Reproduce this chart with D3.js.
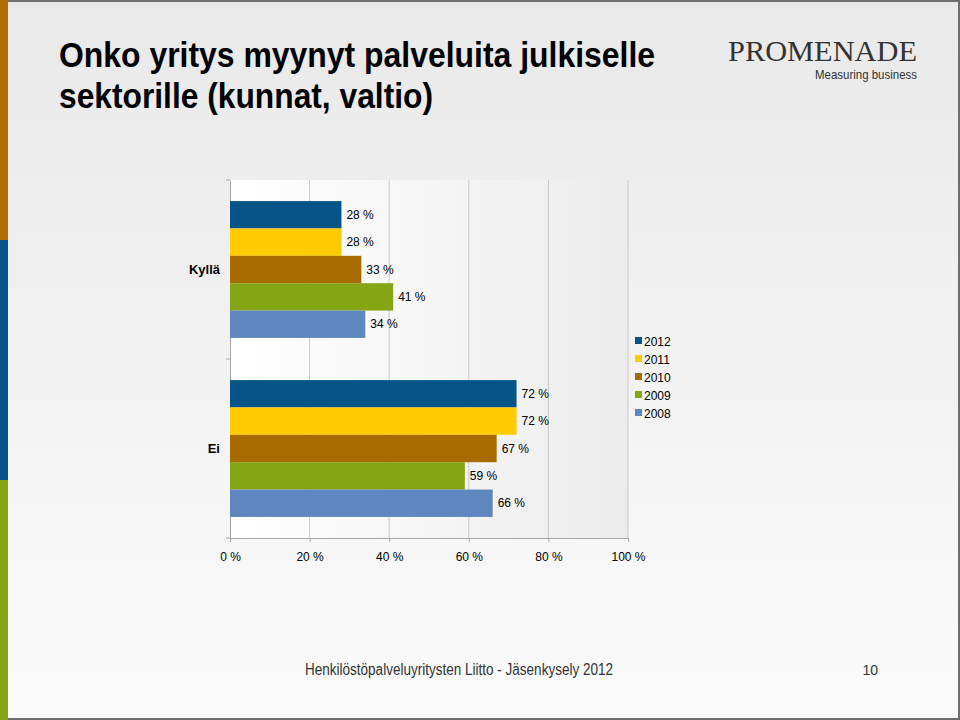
<!DOCTYPE html>
<html><head><meta charset="utf-8">
<script src="https://cdn.jsdelivr.net/npm/d3@7"></script>
<style>body{margin:0}svg{display:block}</style>
</head><body><svg id="viz"></svg>
<script>
(function () {
    const categories = ['Kyllä', 'Ei']
    const years = ['2012', '2011', '2010', '2009', '2008']
    const colors = ['#045487', '#ffcc00', '#a86b00', '#86a514', '#5f87bf']
    const values = {
        '2012': [28, 72],
        '2011': [28, 72],
        '2010': [33, 67],
        '2009': [41, 59],
        '2008': [34, 66]
    }
    const xTicks = [0, 20, 40, 60, 80, 100]

    const W = 960, H = 720
    const svg = d3.select('#viz').attr('width', W).attr('height', H)
    const defs = svg.append('defs')
    let bg = defs.append('linearGradient').attr('id', 'bg').attr('x1', 0).attr('y1', 0).attr('x2', 0).attr('y2', 1)
    bg.append('stop').attr('offset', 0).attr('stop-color', '#e9e9e9')
    bg.append('stop').attr('offset', 1).attr('stop-color', '#fbfbfb')
    let pg = defs.append('linearGradient').attr('id', 'pg').attr('x1', 0).attr('y1', 0).attr('x2', 1).attr('y2', 0)
    pg.append('stop').attr('offset', 0).attr('stop-color', '#ffffff')
    pg.append('stop').attr('offset', 1).attr('stop-color', '#ececec')

    svg.append('rect').attr('width', W).attr('height', H).attr('fill', 'url(#bg)')
    svg.append('rect').attr('x', 1).attr('y', 1).attr('width', W - 2).attr('height', H - 2)
        .attr('fill', 'none').attr('stroke', '#6e6e6e').attr('stroke-width', 2)
    // side stripe
    ;[['#b07000', 0], ['#045487', 240], ['#86a514', 480]].forEach(s => {
        svg.append('rect').attr('x', 0).attr('y', s[1]).attr('width', 8).attr('height', 240).attr('fill', s[0])
    })

    // title (condensed look via textLength)
    const title = svg.append('text').attr('font-family', '"Liberation Sans", Arial, sans-serif')
        .attr('font-weight', 'bold').attr('font-size', 35).attr('fill', '#000')
    title.append('tspan').attr('x', 59).attr('y', 67).attr('textLength', 596).attr('lengthAdjust', 'spacingAndGlyphs')
        .text('Onko yritys myynyt palveluita julkiselle')
    title.append('tspan').attr('x', 59).attr('y', 108).attr('textLength', 374).attr('lengthAdjust', 'spacingAndGlyphs')
        .text('sektorille (kunnat, valtio)')

    // logo
    svg.append('text').attr('x', 917).attr('y', 61).attr('text-anchor', 'end')
        .attr('font-family', '"Liberation Serif", serif').attr('font-size', 29).attr('fill', '#333')
        .attr('textLength', 189).attr('lengthAdjust', 'spacingAndGlyphs').text('PROMENADE')
    svg.append('text').attr('x', 917).attr('y', 79).attr('text-anchor', 'end')
        .attr('font-family', '"Liberation Sans", sans-serif').attr('font-size', 13).attr('fill', '#333')
        .attr('textLength', 102).attr('lengthAdjust', 'spacingAndGlyphs').text('Measuring business')

    // chart
    const x = d3.scaleLinear().domain([0, 100]).range([230, 628])
    const y0 = d3.scaleBand().domain(categories).range([180, 538]).padding(0)
    const y1 = d3.scaleBand().domain(years).range([0, y0.bandwidth()]).paddingInner(0).paddingOuter(0.77)

    svg.append('rect').attr('x', 230).attr('y', 180).attr('width', 398).attr('height', 358).attr('fill', 'url(#pg)')
    svg.append('g').selectAll('line').data(xTicks.slice(1)).join('line')
        .attr('x1', d => x(d)).attr('x2', d => x(d)).attr('y1', 180).attr('y2', 538)
        .attr('stroke', '#c8c8c8').attr('stroke-width', 1)

    const yAxis = svg.append('g').attr('transform', 'translate(230,0)')
        .call(d3.axisLeft(y0).tickSize(0).tickPadding(10))
    yAxis.select('.domain').attr('stroke', '#a6a6a6')
    yAxis.selectAll('text').attr('font-family', '"Liberation Sans", Arial, sans-serif')
        .attr('font-weight', 'bold').attr('font-size', 13).attr('fill', '#000')
    // category separator ticks
    svg.append('g').selectAll('line').data([180, 180 + y0.step(), 538]).join('line')
        .attr('x1', 226).attr('x2', 230).attr('y1', d => d).attr('y2', d => d).attr('stroke', '#a6a6a6')

    const xAxis = svg.append('g').attr('transform', 'translate(0,538)')
        .call(d3.axisBottom(x).tickValues(xTicks).tickSize(4).tickFormat(d => d + ' %'))
    xAxis.select('.domain').attr('stroke', '#a6a6a6')
    xAxis.selectAll('line').attr('stroke', '#a6a6a6')
    xAxis.selectAll('text').attr('font-family', '"Liberation Sans", Arial, sans-serif')
        .attr('font-size', 12).attr('fill', '#000').attr('dy', '1.3em')

    years.forEach((yr, i) => {
        const g = svg.append('g')
        values[yr].forEach((v, ci) => {
            const cat = categories[ci]
            const yy = y0(cat) + y1(yr)
            g.append('rect').attr('x', x(0)).attr('y', yy).attr('width', x(v) - x(0))
                .attr('height', y1.bandwidth()).attr('fill', colors[i])
            g.append('text').attr('x', x(v) + 5).attr('y', yy + y1.bandwidth() / 2 + 4)
                .attr('font-family', '"Liberation Sans", Arial, sans-serif').attr('font-size', 12)
                .attr('fill', '#000').text(v + ' %')
        })
    })

    // legend
    const lg = svg.append('g')
    years.forEach((yr, i) => {
        const ly = 341 + i * 18
        lg.append('rect').attr('x', 635).attr('y', ly - 4).attr('width', 7).attr('height', 7).attr('fill', colors[i])
        lg.append('text').attr('x', 644).attr('y', ly + 4.5)
            .attr('font-family', '"Liberation Sans", Arial, sans-serif').attr('font-size', 12).attr('fill', '#000').text(yr)
    })

    // footer
    svg.append('text').attr('x', 305).attr('y', 675).attr('font-family', '"Liberation Sans", Arial, sans-serif')
        .attr('font-size', 16).attr('fill', '#333').attr('textLength', 308).attr('lengthAdjust', 'spacingAndGlyphs')
        .text('Henkilöstöpalveluyritysten Liitto - Jäsenkysely 2012')
    svg.append('text').attr('x', 878).attr('y', 675).attr('text-anchor', 'end').attr('font-family', '"Liberation Sans", Arial, sans-serif')
        .attr('font-size', 14).attr('fill', '#333').text('10')
})()
</script></body></html>
